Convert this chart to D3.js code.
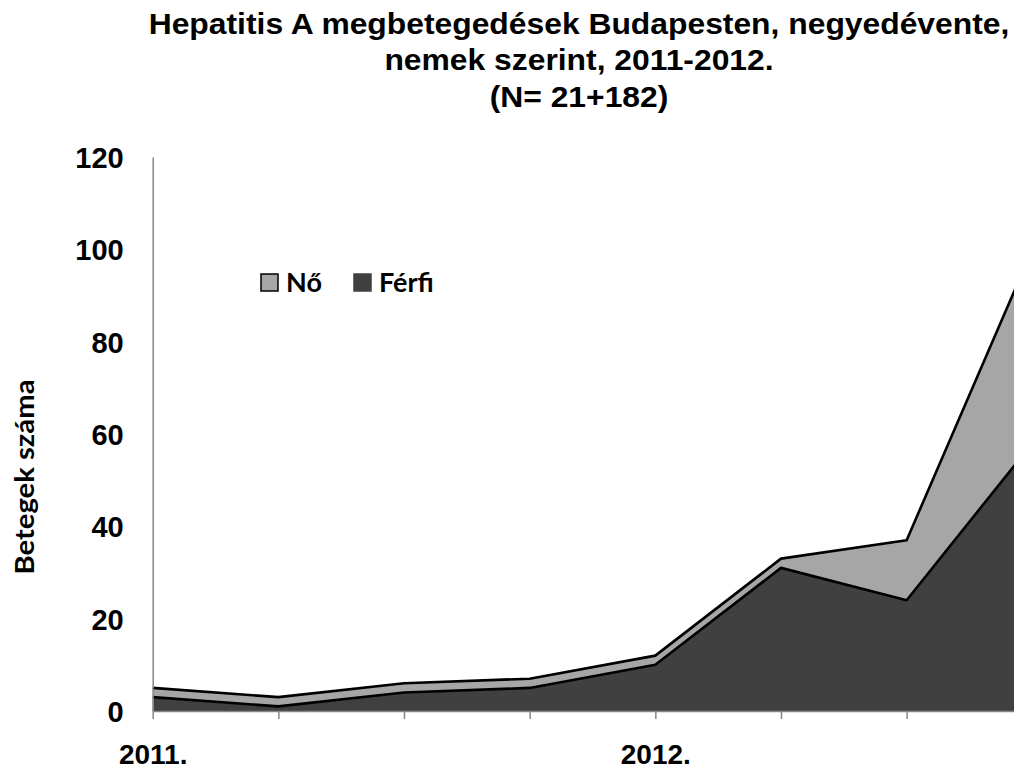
<!DOCTYPE html>
<html>
<head>
<meta charset="utf-8">
<script src="https://cdn.jsdelivr.net/npm/d3@7/dist/d3.min.js"></script>
<style>
  body { margin: 0; background: #fff; }
  svg { display: block; }
</style>
</head>
<body>
<div id="chart-area"></div>
<script>
// quarters 2011 Q1 .. 2012 Q4
const quarters = ['2011 Q1', '2011 Q2', '2011 Q3', '2011 Q4', '2012 Q1', '2012 Q2', '2012 Q3', '2012 Q4'];
const quarterLabels = ['2011.', '', '', '', '2012.', '', '', ''];
const ferfi = [3, 1, 4, 5, 10, 31, 24, 58];
const no = [2, 2, 2, 2, 2, 2, 13, 42];
const yTicks = [0, 20, 40, 60, 80, 100, 120];
const titleLines = ['Hepatitis A megbetegedések Budapesten, negyedévente,', 'nemek szerint, 2011-2012.', '(N= 21+182)'];

const W = 1014;
const H = 769;
const PLOT = { LEFT: 152.7, RIGHT: 1032.3, TOP: 157, BOTTOM: 711 };

const svg = d3.select('#chart-area').append('svg')
  .attr('width', W)
  .attr('height', H);

const data = quarters.map((q, i) => ({ q: q, 'Férfi': ferfi[i], 'Nő': no[i] }));

const x = d3.scalePoint()
  .domain(quarters)
  .range([PLOT.LEFT, PLOT.RIGHT]);

const y = d3.scaleLinear()
  .domain([0, 120])
  .range([PLOT.BOTTOM, PLOT.TOP]);

const stack = d3.stack().keys(['Férfi', 'Nő']);
const series = stack(data);
const fills = { 'Férfi': '#404040', 'Nő': '#a6a6a6' };

const area = d3.area()
  .x(d => x(d.data.q))
  .y0(d => y(d[0]))
  .y1(d => y(d[1]));

const topLine = d3.line()
  .x(d => x(d.data.q))
  .y(d => y(d[1]));

svg.selectAll('path.area')
  .data(series)
  .enter().append('path')
  .attr('class', 'area')
  .attr('d', area)
  .attr('fill', d => fills[d.key]);

svg.selectAll('path.edge')
  .data(series)
  .enter().append('path')
  .attr('class', 'edge')
  .attr('d', topLine)
  .attr('fill', 'none')
  .attr('stroke', '#000')
  .attr('stroke-width', 2.6)
  .attr('stroke-linejoin', 'round');

// x axis
const xAxis = svg.append('g')
  .attr('transform', `translate(0, ${PLOT.BOTTOM})`)
  .call(d3.axisBottom(x).tickSize(8).tickSizeOuter(0).tickFormat((d, i) => quarterLabels[i]));
xAxis.select('.domain').attr('stroke', '#868686').attr('stroke-width', 1.5);
xAxis.selectAll('.tick line').attr('stroke', '#868686').attr('stroke-width', 1.5);
xAxis.selectAll('.tick text')
  .attr('y', 53)
  .attr('dy', 0)
  .attr('fill', '#000')
  .style('font-family', 'Arial, "Liberation Sans", sans-serif')
  .style('font-weight', 'bold')
  .style('font-size', '28px');

// y axis
const yAxis = svg.append('g')
  .attr('transform', `translate(${PLOT.LEFT}, 0)`)
  .call(d3.axisLeft(y).tickValues(yTicks).tickSize(0).tickPadding(29));
yAxis.select('.domain').attr('stroke', '#868686').attr('stroke-width', 1.5);
yAxis.selectAll('.tick text')
  .attr('dy', '0.36em')
  .attr('fill', '#000')
  .style('font-family', 'Arial, "Liberation Sans", sans-serif')
  .style('font-weight', 'bold')
  .style('font-size', '29px');

// y axis title
svg.append('text')
  .attr('transform', 'translate(34, 477) rotate(-90)')
  .attr('text-anchor', 'middle')
  .attr('textLength', 195)
  .attr('lengthAdjust', 'spacingAndGlyphs')
  .style('font-family', 'Lato, "Open Sans", sans-serif')
  .style('font-weight', 'bold')
  .style('font-size', '26px')
  .text('Betegek száma');

// title, stretched a little wider like the original
const title = svg.append('g');
const titleText = title.append('text')
  .attr('text-anchor', 'middle')
  .style('font-family', 'Arial, "Liberation Sans", sans-serif')
  .style('font-weight', 'bold')
  .style('font-size', '29px');
const tspans = titleText.selectAll('tspan')
  .data(titleLines)
  .enter().append('tspan')
  .attr('x', 0)
  .attr('y', (d, i) => 34 + i * 36.5)
  .text(d => d);
const firstWidth = tspans.node().getComputedTextLength();
const sx = 861 / firstWidth;
title.attr('transform', `translate(579, 0) scale(${sx}, 1)`);

// legend
const legendItems = [
  { key: 'Nő', x: 261, stroke: '#000' },
  { key: 'Férfi', x: 354, stroke: '#404040' }
];
const legend = svg.selectAll('g.legend')
  .data(legendItems)
  .enter().append('g')
  .attr('class', 'legend')
  .attr('transform', d => `translate(${d.x}, 274)`);
legend.append('rect')
  .attr('width', 17)
  .attr('height', 17)
  .attr('fill', d => fills[d.key])
  .attr('stroke', d => d.stroke)
  .attr('stroke-width', 1.5);
legend.append('text')
  .attr('x', 25)
  .attr('y', 18)
  .style('font-family', 'Lato, "Open Sans", sans-serif')
  .style('font-weight', 'bold')
  .style('font-size', '27px')
  .text(d => d.key);
</script>
</body>
</html>
